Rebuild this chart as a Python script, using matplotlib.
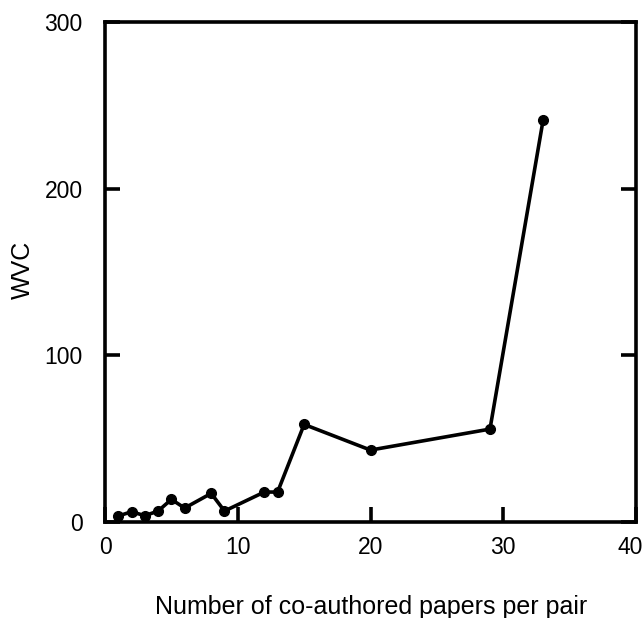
import matplotlib
matplotlib.use("Agg")
import matplotlib.pyplot as plt
import matplotlib.transforms as mtransforms

papers = [1, 2, 3, 4, 5, 6, 8, 9, 12, 13, 15, 20, 29, 33]
wvc = [3.4, 6, 3.6, 6.4, 13.4, 8.2, 17, 6.4, 17.8, 17.8, 58.4, 43, 55.6, 241]
x_ticks = [0, 10, 20, 30, 40]
y_ticks = [0, 100, 200, 300]

plt.rcParams['font.family'] = ['Liberation Sans', 'DejaVu Sans']

fig = plt.figure(figsize=(6.44, 6.18), dpi=100)
L, R, T, B = 105, 636, 22, 521.7
ax = fig.add_axes([L/644, 1 - B/618, (R - L)/644, (B - T)/618])
ax.plot(papers, wvc, color='black', lw=2.6, marker='o', ms=7, clip_on=False, zorder=3)
ax.set_xlim(0, 40)
ax.set_ylim(0, 300)
ax.set_xticks(x_ticks)
ax.set_yticks(y_ticks)
for s in ax.spines.values():
    s.set_linewidth(2.6)
ax.tick_params(direction='in', length=11, width=2.6, labelsize=16.5, right=True, top=False)
ax.tick_params(axis='y', pad=16)
ax.tick_params(axis='x', pad=10)
ax.set_xlabel('Number of co-authored papers per pair', fontsize=18)
ax.set_ylabel('WVC', fontsize=18)
ax.xaxis.set_label_coords((371 - L)/(R - L), (B - 595)/(B - T))
ax.yaxis.set_label_coords((35 - L)/(R - L), (B - 270)/(B - T))
fig.canvas.draw()
last = ax.get_xticklabels()[-1]
last.set_transform(last.get_transform() + mtransforms.ScaledTranslation(-6/100, 0, fig.dpi_scale_trans))
fig.savefig('out.png', dpi=100)
